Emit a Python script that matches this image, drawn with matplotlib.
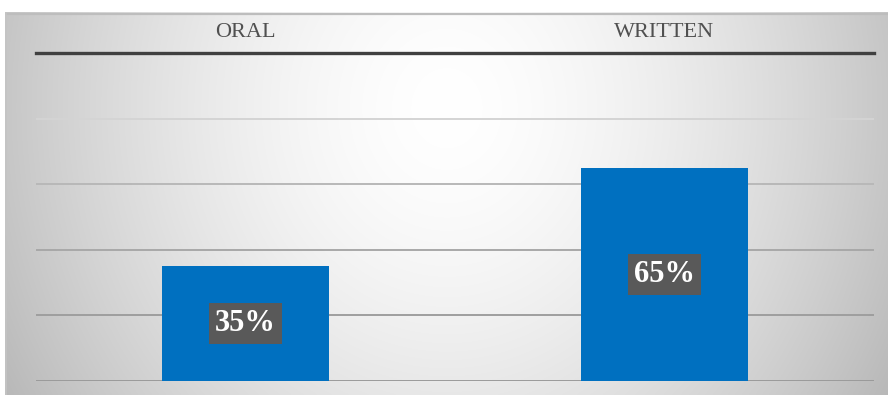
import numpy as np
import matplotlib
matplotlib.use("Agg")
import matplotlib.pyplot as plt

categories = ["ORAL", "WRITTEN"]
values = [35, 65]
labels = ["35%", "65%"]
grid_ticks = [0, 20, 40, 60, 80, 100]
grid_colors = ["#9a9a9a", "#9e9e9e", "#a8a8a8", "#b8b8b8", "#d4d4d4"]

W, H = 888, 395
fig = plt.figure(figsize=(W / 100, H / 100), dpi=100)
fig.patch.set_facecolor("white")

# background gradient panel
bg = fig.add_axes([5 / W, 0, (W - 5) / W, (H - 12) / H])
bg.set_axis_off()
nx, ny = 400, 200
xx, yy = np.meshgrid(np.linspace(-1, 1, nx), np.linspace(0, 1, ny))
r = np.sqrt(xx ** 2 + ((yy - 0.75) / 1.3) ** 2)
val = 1.0 - 0.22 * np.clip(r, 0, 1.3) ** 1.6
val = np.clip(val, 0, 1)
img = np.dstack([val, val, val])
bg.imshow(img, origin="lower", extent=[0, 1, 0, 1], aspect="auto", interpolation="bilinear")
bg.set_xlim(0, 1)
bg.set_ylim(0, 1)
bg.plot([0, 1], [0.995, 0.995], color="#bdbdbd", lw=1.6, transform=bg.transAxes)
bg.plot([0.001, 0.001], [0, 1], color="#c4c4c4", lw=1.2, transform=bg.transAxes)

# main axes
ax = fig.add_axes([36 / W, 14 / H, 838 / W, 328 / H])
ax.patch.set_alpha(0)
x = np.arange(len(categories))
ax.bar(x, values, width=0.4, color="#0070C0", zorder=3)
ax.set_xlim(-0.5, 1.5)
ax.set_ylim(0, 100)

for g, c in zip(grid_ticks[:-1], grid_colors):
    ax.axhline(g, color=c, lw=1.4, zorder=1)

for s in ["left", "right", "bottom"]:
    ax.spines[s].set_visible(False)
ax.spines["top"].set_color("#404040")
ax.spines["top"].set_linewidth(2.4)
ax.set_yticks([])
ax.xaxis.tick_top()
ax.set_xticks(x)
ax.set_xticklabels(categories, fontfamily="Liberation Serif", fontsize=16, color="#505050")
ax.tick_params(axis="x", length=0, pad=8)

for xi, v, lab in zip(x, values, labels):
    ax.text(xi, v / 2, lab, ha="center", va="center", fontsize=22, fontweight="bold",
            fontfamily="Liberation Serif", color="white", zorder=5,
            bbox=dict(boxstyle="square,pad=0.2", facecolor="#595959", edgecolor="none"))

fig.savefig("out.png", dpi=100)
